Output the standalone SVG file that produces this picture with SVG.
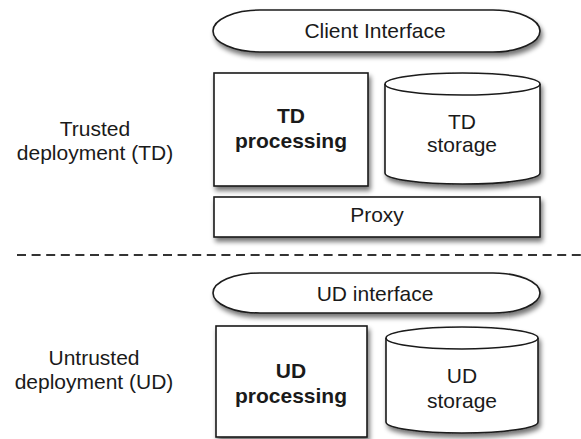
<svg xmlns="http://www.w3.org/2000/svg" width="581" height="439" viewBox="0 0 581 439">
  <defs>
    <filter id="shadow" x="-10%" y="-20%" width="125%" height="160%">
      <feGaussianBlur in="SourceAlpha" stdDeviation="2.5"/>
      <feOffset dx="1.5" dy="4" result="b"/>
      <feComponentTransfer><feFuncA type="linear" slope="0.55"/></feComponentTransfer>
      <feMerge><feMergeNode/><feMergeNode in="SourceGraphic"/></feMerge>
    </filter>
  </defs>
  <style>
    .shape { fill: #ffffff; stroke: #1a1a1a; stroke-width: 1.6; }
    .rim { fill: none; stroke: #1a1a1a; stroke-width: 1.6; }
    text { font-family: "Liberation Sans", Arial, Helvetica, sans-serif; font-size: 21px; fill: #1a1a1a; text-anchor: middle; }
    .bold { font-weight: bold; }
    .divider { stroke: #333333; stroke-width: 2; stroke-dasharray: 9 5.6; fill: none; }
  </style>
  <rect width="581" height="439" fill="#ffffff"/>

  <!-- zone labels -->
  <g id="label-trusted">
    <text x="95" y="136">Trusted</text>
    <text x="95" y="160">deployment (TD)</text>
  </g>
  <g id="label-untrusted">
    <text x="94" y="365">Untrusted</text>
    <text x="94" y="389">deployment (UD)</text>
  </g>

  <!-- trusted deployment -->
  <g id="client-interface">
    <path class="shape" filter="url(#shadow)" d="M260 10 H493 A47 21 0 0 1 493 52 H260 A47 21 0 0 1 260 10 Z"/>
    <text x="375" y="38">Client Interface</text>
  </g>
  <g id="td-processing">
    <rect class="shape" filter="url(#shadow)" x="214" y="73" width="154" height="113"/>
    <text class="bold" x="291" y="123">TD</text>
    <text class="bold" x="291" y="148">processing</text>
  </g>
  <g id="td-storage">
    <path class="shape" filter="url(#shadow)" d="M385 84 A77.5 11 0 0 1 540 84 V173 A77.5 11 0 0 1 385 173 Z"/>
    <path class="rim" d="M385 84 A77.5 11 0 0 0 540 84"/>
    <text x="462" y="129">TD</text>
    <text x="462" y="152">storage</text>
  </g>
  <g id="proxy">
    <rect class="shape" filter="url(#shadow)" x="214" y="197" width="326" height="40"/>
    <text x="377" y="222">Proxy</text>
  </g>

  <!-- trust boundary -->
  <g id="connectors">
    <line class="divider" x1="17" y1="255" x2="581" y2="255"/>
  </g>

  <!-- untrusted deployment -->
  <g id="ud-interface">
    <path class="shape" filter="url(#shadow)" d="M260 273 H493 A47 20 0 0 1 493 313 H260 A47 20 0 0 1 260 273 Z"/>
    <text x="375" y="301">UD interface</text>
  </g>
  <g id="ud-processing">
    <rect class="shape" filter="url(#shadow)" x="216" y="326" width="151" height="111"/>
    <text class="bold" x="291" y="378">UD</text>
    <text class="bold" x="291" y="403">processing</text>
  </g>
  <g id="ud-storage">
    <path class="shape" filter="url(#shadow)" d="M386 338 A76 11 0 0 1 538 338 V422 A76 11 0 0 1 386 422 Z"/>
    <path class="rim" d="M386 338 A76 11 0 0 0 538 338"/>
    <text x="462" y="383">UD</text>
    <text x="462" y="408">storage</text>
  </g>
</svg>
